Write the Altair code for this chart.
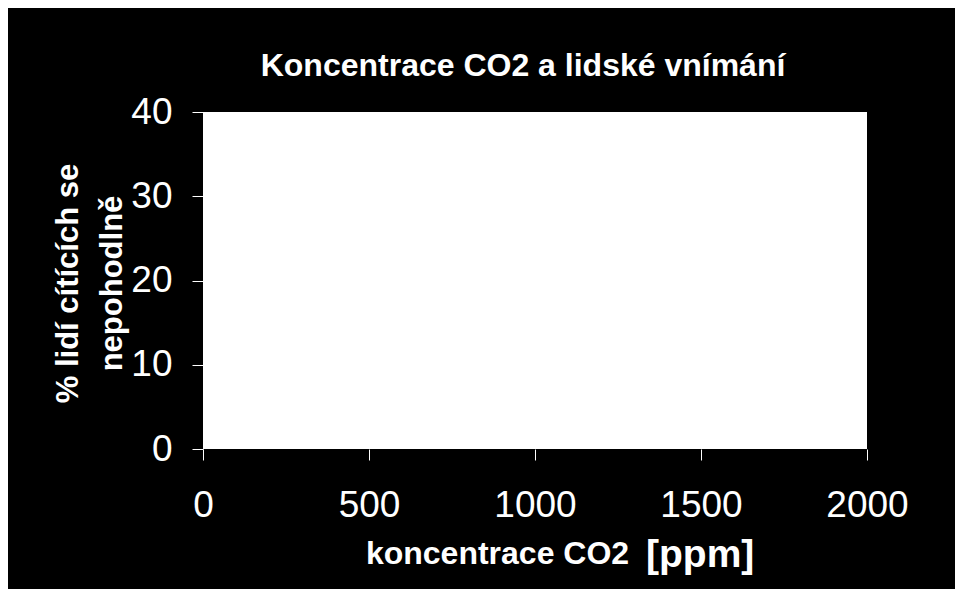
import altair as alt
import pandas as pd

# ---- data (the reference plot area is empty: no data series drawn) ----
ppm_values = []          # koncentrace CO2 [ppm]
pct_values = []          # % lidí cítících se nepohodlně
x_ticks = [0, 500, 1000, 1500, 2000]
y_ticks = [0, 10, 20, 30, 40]
title_text = "Koncentrace CO2 a lidské vnímání"
x_title = "koncentrace CO2"
x_unit = ["[ppm]"]
y_title = ["% lidí cítících se", "nepohodlně"]

FONT = "Liberation Sans"

series = pd.DataFrame({"ppm": pd.Series(ppm_values, dtype=float),
                       "pct": pd.Series(pct_values, dtype=float)})
unit_df = pd.DataFrame({"label": x_unit})

x_enc = alt.X(
    "ppm:Q",
    scale=alt.Scale(domain=[x_ticks[0], x_ticks[-1]], nice=False, zero=False),
    axis=alt.Axis(
        values=x_ticks, format="d", title=x_title, grid=False, domain=False,
        tickColor="white", tickSize=11, tickWidth=1,
        labelColor="white", labelFont=FONT, labelFontSize=37, labelFontWeight="normal",
        labelPadding=27, labelFlush=False,
        titleColor="white", titleFont=FONT, titleFontSize=32, titleFontWeight="bold",
        titleX=294, titleY=114, titleAlign="center", titleBaseline="alphabetic",
        titleAnchor="start",
    ),
)
y_enc = alt.Y(
    "pct:Q",
    scale=alt.Scale(domain=[y_ticks[0], y_ticks[-1]], nice=False, zero=False),
    axis=alt.Axis(
        values=y_ticks, format="d", title=y_title, grid=False, domain=False,
        tickColor="white", tickSize=11, tickWidth=1,
        labelColor="white", labelFont=FONT, labelFontSize=37, labelFontWeight="normal",
        labelPadding=20, labelFlush=False,
        titleColor="white", titleFont=FONT, titleFontSize=31, titleFontWeight="bold",
        titleLineHeight=44, titleAngle=-90, titleX=-126, titleY=171,
        titleAlign="center", titleBaseline="alphabetic", titleAnchor="start",
    ),
)

lines = alt.Chart(series).mark_line(color="black").encode(x=x_enc, y=y_enc)

unit = alt.Chart(unit_df).mark_text(
    color="white", font=FONT, fontSize=39, fontWeight="bold",
    align="left", baseline="middle",
).encode(text="label:N", x=alt.value(443), y=alt.value(443))

chart = alt.layer(lines, unit).properties(
    width=664,
    height=337,
    background="black",
    padding={"left": 195, "top": 104, "right": 88, "bottom": 140},
    autosize=alt.AutoSizeParams(type="none"),
    title=alt.TitleParams(
        text=title_text, color="white", font=FONT, fontSize=32, fontWeight="bold",
        anchor="middle", dx=-12, offset=10,
    ),
).configure_view(fill="white", stroke=None)

chart.save("out.html", embed_options={"renderer": "svg", "actions": False})
